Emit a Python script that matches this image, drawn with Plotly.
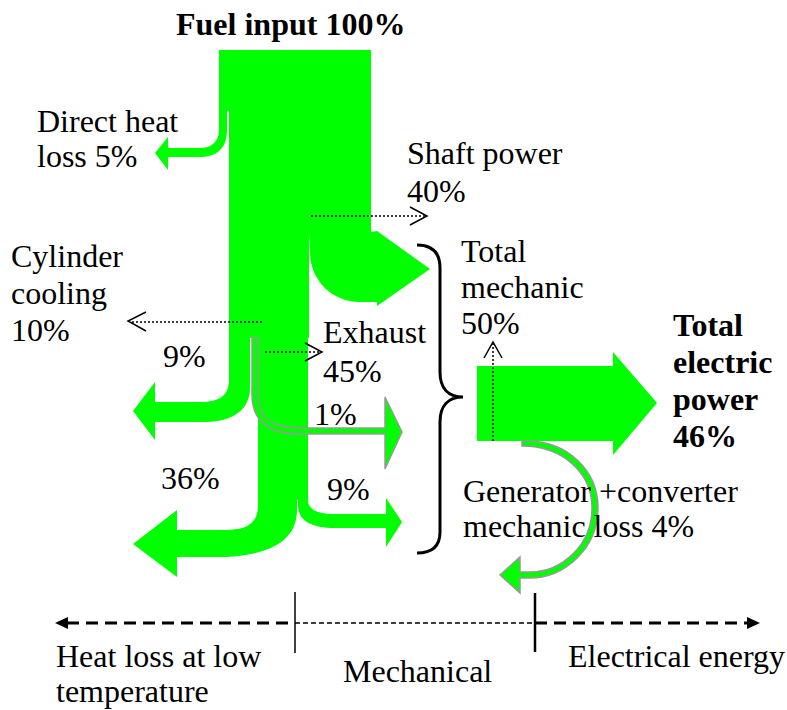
import plotly.graph_objects as go

# ---------------- data (percent of fuel input) ----------------
flow_names = ["Fuel input", "Direct heat loss", "Shaft power", "Cylinder cooling",
              "Exhaust", "Total mechanic", "Total electric power",
              "Generator +converter mechanic loss"]
flow_pct = [100, 5, 40, 10, 45, 50, 46, 4]
cylinder_split_pct = [9, 1]      # to low-temperature heat, to mechanical
exhaust_split_pct = [36, 9]      # to low-temperature heat, to mechanical
zone_labels = ["Heat loss at low", "temperature", "Mechanical", "Electrical energy"]

pct = dict(zip(flow_names, flow_pct))

# ---------------- styles ----------------
GREEN = "#00FF00"
GREY = "#999999"
FONT = "Liberation Serif"
FS = 32

W, H = 787, 710
fig = go.Figure()
fig.add_trace(go.Scatter(x=[0, W], y=[0, H], mode="markers",
                         marker=dict(opacity=0), hoverinfo="skip", showlegend=False))

shapes = []
annotations = []


def poly(points):
    return "M " + " L ".join(f"{x},{y}" for x, y in points) + " Z"


def add_path(d, fill=GREEN, line=None, lw=0):
    s = dict(type="path", path=d, xref="x", yref="y", layer="above")
    s["fillcolor"] = fill if fill else "rgba(0,0,0,0)"
    s["line"] = dict(color=line or "rgba(0,0,0,0)", width=lw)
    shapes.append(s)


def add_line(x0, y0, x1, y1, dash="solid", lw=1.5, color="black"):
    shapes.append(dict(type="line", x0=x0, y0=y0, x1=x1, y1=y1, xref="x", yref="y",
                       layer="above", line=dict(color=color, width=lw, dash=dash)))


def label(text, x, base, bold=False, anchor="left", size=FS):
    if bold:
        text = f"<b>{text}</b>"
    annotations.append(dict(x=x, y=base - 0.34 * size, text=text, xanchor=anchor,
                            yanchor="middle", showarrow=False, borderpad=0,
                            font=dict(family=FONT, size=size, color="black")))


# ---------------- flows ----------------
# fuel input block and trunk
add_path(poly([(219, 50), (371, 50), (371, 111), (219, 111)]))
add_path(poly([(229, 108), (371, 108), (371, 233), (229, 233)]))
add_path(poly([(229, 230), (309, 230), (309, 338), (229, 338)]))
# shaft power branch
add_path("M 309,232 L 371,232 L 377,231 L 430,269 L 377,306 L 377,302 L 360,302 "
         "C 332,302 310,280 310,252 Z")
# direct heat loss
add_path("M 219,109 L 227,109 L 227,130 C 227,150 215,157 200,157 L 168,157 L 168,170 "
         "L 155,153 L 168,137 L 168,148 L 200,148 C 211,148 219,142 219,130 Z")
# cylinder cooling 9 %
add_path("M 229,336 L 250,336 L 250,388 C 250,410 232,422 205,422 L 155,422 L 155,440 "
         "L 133,411 L 155,382 L 155,402 L 200,402 C 220,402 229,395 229,380 Z")
# exhaust trunk
add_path(poly([(258, 336), (308, 336), (308, 500), (258, 500)]))
# exhaust 36 % to heat loss
add_path("M 258,495 L 297,495 L 297,510 C 297,545 262,557 215,557 L 177,557 L 177,577 "
         "L 133,544 L 177,510 L 177,530 L 225,530 C 245,530 258,525 258,505 Z")
# exhaust 9 % to mechanical
add_path("M 298,495 L 308,495 L 308,500 C 308,510 318,514 335,514 L 386,514 L 386,498 "
         "L 402,522 L 386,547 L 386,528 L 335,528 C 310,528 298,520 298,505 Z")
# cylinder cooling 1 % to mechanical (outlined)
add_path("M 252,338 L 258,338 L 258,395 C 258,420 275,428 300,428 L 385,428 L 385,397 "
         "L 402,432 L 385,469 L 385,434 L 300,434 C 268,434 252,420 252,395 Z",
         line=GREY, lw=1.5)
# electric power
add_path("M 477,366 L 613,366 L 613,352 L 657,403 L 613,455 L 613,441 L 477,441 Z")
# generator loss (outlined)
add_path("M 522,441 L 527,441 C 567,441 598,470 598,508 C 598,548 565,578 530,578 "
         "L 520,578 L 520,593 L 500,575 L 520,557 L 520,572 L 530,572 "
         "C 562,572 592,545 592,508 C 592,473 563,446 522,446 Z",
         line=GREY, lw=1.5)

# brace
add_path("M 417,245 C 432,245 440,252 440,268 L 440,372 C 440,388 448,397 463,397 "
         "C 448,397 440,406 440,422 L 440,532 C 440,546 432,553 417,553",
         fill=None, line="black", lw=3)

# dotted indicator arrows
DOT = "2px,2px"
add_line(311, 216, 425, 216, dash=DOT)
add_path("M 410,207 L 427,216 L 410,225", fill=None, line="black", lw=1.5)
add_line(262, 322, 130, 322, dash=DOT)
add_path("M 146,312 L 128,321 L 146,331", fill=None, line="black", lw=1.5)
add_line(265, 352, 320, 352, dash=DOT)
add_path("M 305,343 L 322,352 L 305,361", fill=None, line="black", lw=1.5)
add_line(493, 441, 493, 344, dash=DOT)
add_path("M 484,358 L 493,342 L 502,358", fill=None, line="black", lw=1.5)

# bottom energy-quality axis
add_line(67, 623, 295, 623, dash="12px,7px", lw=3)
add_line(295, 623, 535, 623, dash="5px,3px", lw=1.5)
add_line(535, 623, 748, 623, dash="12px,7px", lw=3)
add_path("M 55,623 L 68,617 L 68,629 Z", fill="black")
add_path("M 760,623 L 747,617 L 747,629 Z", fill="black")
add_line(295, 592, 295, 653, lw=1.5)
add_line(535, 593, 535, 652, lw=2.5)

# ---------------- text ----------------
label(f"Fuel input {pct['Fuel input']}%", 290, 35, bold=True, anchor="center")
label("Direct heat", 36, 132)
label(f"loss {pct['Direct heat loss']}%", 36, 167)
label("Shaft power", 406, 164)
label(f"{pct['Shaft power']}%", 406, 202)
label("Cylinder", 10, 267)
label("cooling", 10, 304)
label(f"{pct['Cylinder cooling']}%", 10, 341)
label("Total", 460, 262)
label("mechanic", 460, 298)
label(f"{pct['Total mechanic']}%", 460, 334)
label("Exhaust", 322, 343)
label(f"{pct['Exhaust']}%", 322, 382)
label(f"{cylinder_split_pct[0]}%", 162, 367)
label(f"{cylinder_split_pct[1]}%", 313, 425)
label(f"{exhaust_split_pct[0]}%", 160, 489)
label(f"{exhaust_split_pct[1]}%", 326, 500)
label("Total", 672, 336, bold=True)
label("electric", 672, 373, bold=True)
label("power", 672, 410, bold=True)
label(f"{pct['Total electric power']}%", 672, 447, bold=True)
label("Generator +converter", 462, 502)
label(f"mechanic loss {pct['Generator +converter mechanic loss']}%", 462, 537)
label(zone_labels[0], 55, 667)
label(zone_labels[1], 55, 702)
label(zone_labels[2], 342, 682)
label(zone_labels[3], 567, 667)

fig.update_layout(
    width=W, height=H, autosize=False,
    margin=dict(l=0, r=0, t=0, b=0, pad=0),
    paper_bgcolor="white", plot_bgcolor="white",
    xaxis=dict(range=[0, W], visible=False, fixedrange=True),
    yaxis=dict(range=[H, 0], visible=False, fixedrange=True),
    shapes=shapes, annotations=annotations, showlegend=False,
)

fig.write_html("out.html", config={"displayModeBar": False, "staticPlot": True},
               post_script="document.body.style.margin='0';document.body.style.overflow='hidden';")
